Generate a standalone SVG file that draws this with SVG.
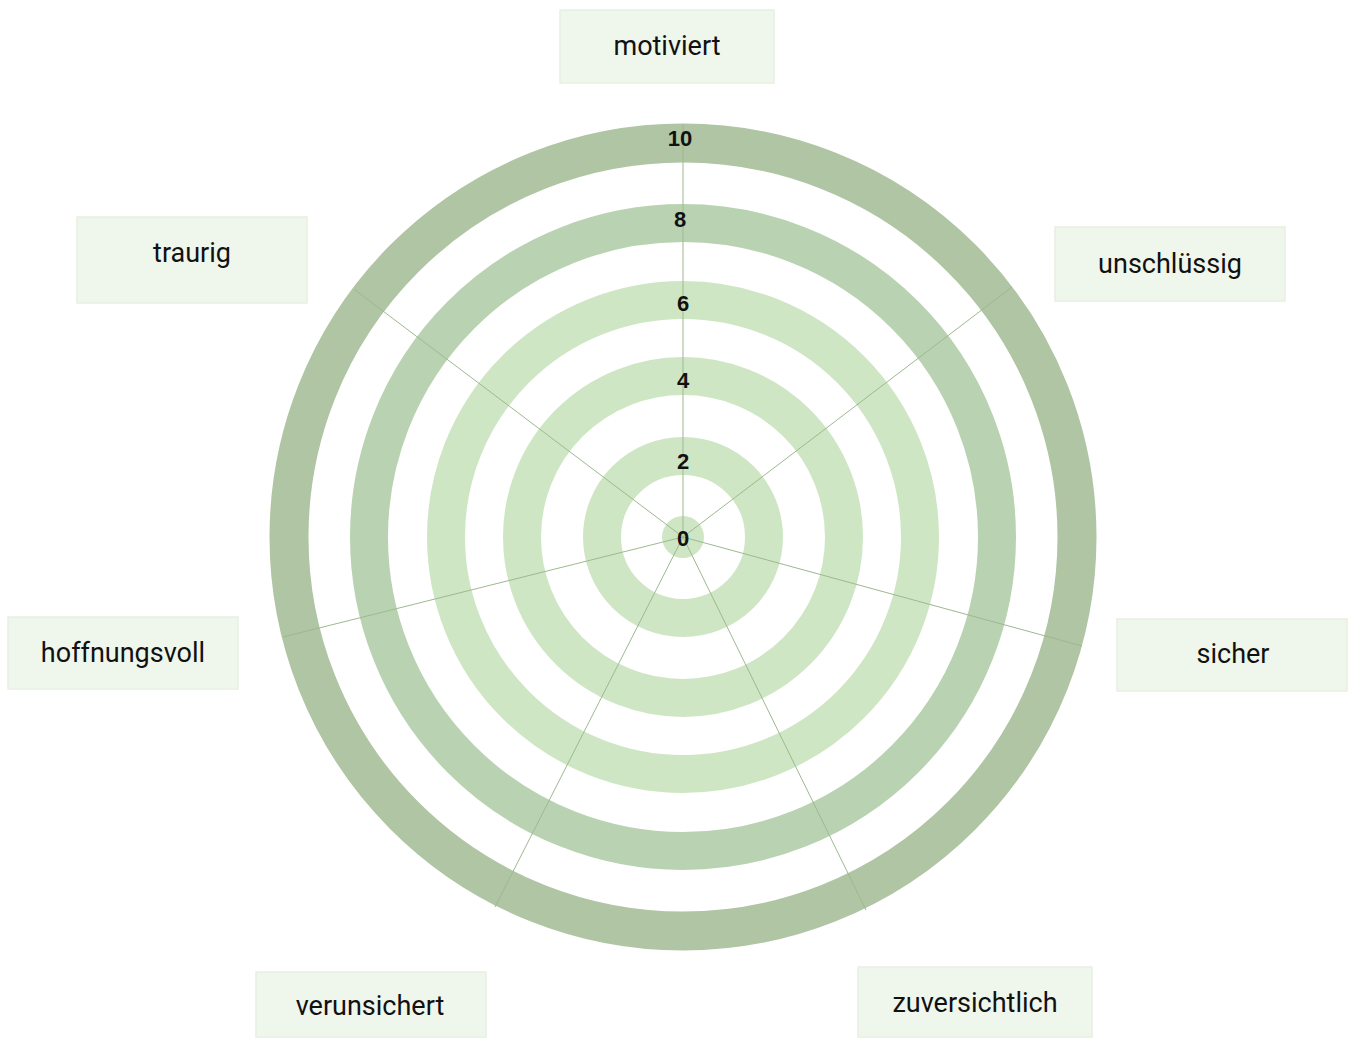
<svg xmlns="http://www.w3.org/2000/svg" width="1350" height="1038" viewBox="0 0 1350 1038">
<style>
.ring{fill:none}
.r10{stroke:#AFC5A3;stroke-width:39}
.r8{stroke:#B9D3B2;stroke-width:38}
.rl{stroke:#CFE6C5;stroke-width:38}
.spoke{stroke:#9DB98F;stroke-width:1}
.num{font-family:"Liberation Sans",Arial,sans-serif;font-weight:bold;font-size:22px;fill:#111;text-anchor:middle}
.box{fill:#EFF6EC;stroke:#E7F0E3;stroke-width:1.5}
.lbl{font-family:Roboto,"Liberation Sans",sans-serif;font-size:27px;fill:#111;text-anchor:middle}
</style>
<rect width="1350" height="1038" fill="#fff"/>
<g id="chart">
<circle class="ring r10" cx="683" cy="537" r="394"/>
<circle class="ring r8" cx="683" cy="537" r="314"/>
<circle class="ring rl" cx="683" cy="537" r="237"/>
<circle class="ring rl" cx="683" cy="537" r="161"/>
<circle class="ring rl" cx="683" cy="537" r="81"/>
<circle cx="683" cy="537" r="21" fill="#CFE6C5"/>
</g>
<g id="connectors">
<line class="spoke" x1="683" y1="537" x2="683" y2="124"/>
<line class="spoke" x1="683" y1="537" x2="1012" y2="287"/>
<line class="spoke" x1="683" y1="537" x2="1082" y2="646"/>
<line class="spoke" x1="683" y1="537" x2="866" y2="910"/>
<line class="spoke" x1="683" y1="537" x2="495" y2="907"/>
<line class="spoke" x1="683" y1="537" x2="283" y2="637"/>
<line class="spoke" x1="683" y1="537" x2="355" y2="290"/>
</g>
<g id="scale">
<text class="num" x="680" y="146">10</text>
<text class="num" x="680" y="227">8</text>
<text class="num" x="683" y="311">6</text>
<text class="num" x="683" y="388">4</text>
<text class="num" x="683" y="469">2</text>
<text class="num" x="683" y="546">0</text>
</g>
<g id="node-motiviert"><rect class="box" x="560" y="10" width="214" height="73"/><text class="lbl" x="667" y="55">motiviert</text></g>
<g id="node-traurig"><rect class="box" x="77" y="217" width="230" height="86"/><text class="lbl" x="192" y="262">traurig</text></g>
<g id="node-unschluessig"><rect class="box" x="1055" y="227" width="230" height="74"/><text class="lbl" x="1170" y="273">unschlüssig</text></g>
<g id="node-hoffnungsvoll"><rect class="box" x="8" y="617" width="230" height="72"/><text class="lbl" x="123" y="662">hoffnungsvoll</text></g>
<g id="node-sicher"><rect class="box" x="1117" y="619" width="230" height="72"/><text class="lbl" x="1233" y="663">sicher</text></g>
<g id="node-verunsichert"><rect class="box" x="256" y="972" width="230" height="65"/><text class="lbl" x="370" y="1015">verunsichert</text></g>
<g id="node-zuversichtlich"><rect class="box" x="858" y="967" width="234" height="70"/><text class="lbl" x="975" y="1012">zuversichtlich</text></g>
</svg>
